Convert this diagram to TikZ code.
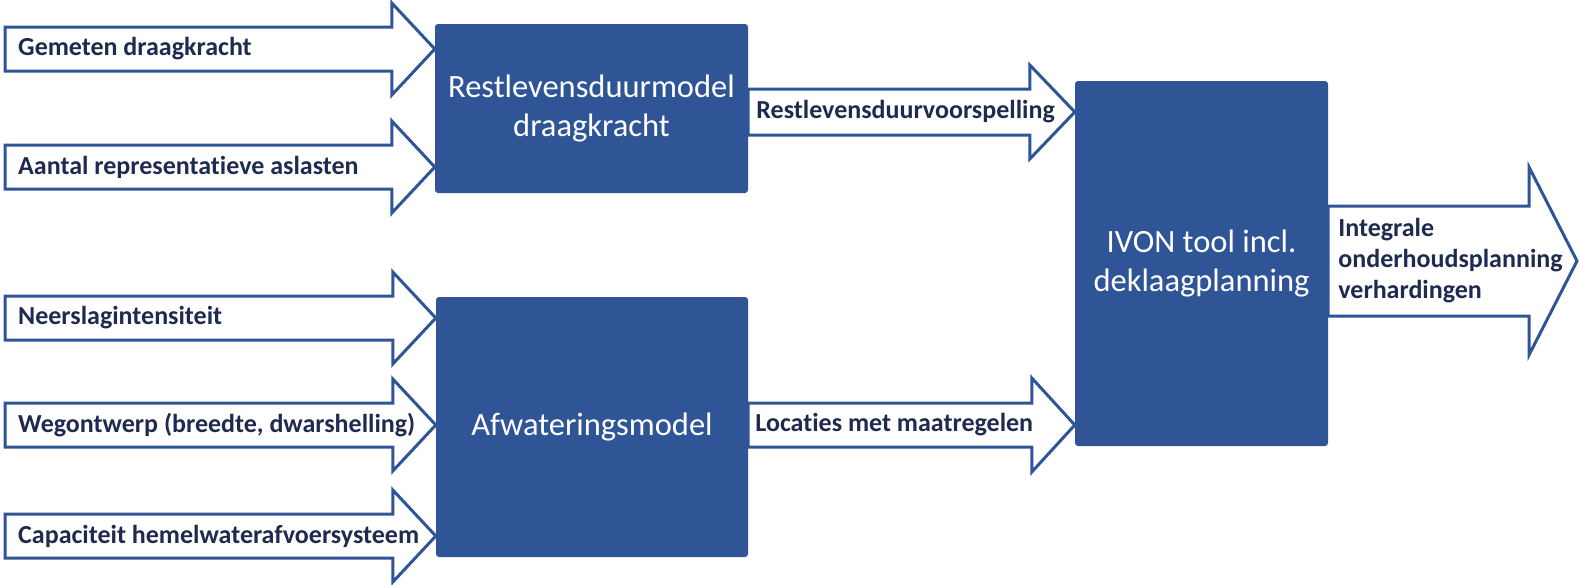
\documentclass[tikz,border=0pt]{standalone}
\usepackage{fontspec}
\setmainfont{Carlito}[Ligatures={NoCommon}]
\usepackage{xcolor}
\usetikzlibrary{arrows.meta,calc,positioning}
\definecolor{ModelBlue}{HTML}{2F5597}
\definecolor{LabelNavy}{HTML}{1E2B4F}
\tikzset{
  modelbox/.style={draw=none, fill=ModelBlue, rounded corners=3pt, align=center, text=white, font=\fontsize{32.5}{39}\selectfont},
  flowlabel/.style={anchor=west, inner sep=0pt, align=left, text=LabelNavy, font=\fontsize{26}{31}\selectfont\bfseries},
  blockarrow/.style={draw=ModelBlue, fill=white, line width=3pt, line join=miter}
}
% #1 tail, #2 tip, #3 half shaft, #4 half head, #5 head length
\newcommand{\blockarrow}[5]{%
  \draw[blockarrow] ($(#1)+(0,-#3)$) -- ($(#2)+(-#5,-#3)$) -- ($(#2)+(-#5,-#4)$) -- (#2)
    -- ($(#2)+(-#5,#4)$) -- ($(#2)+(-#5,#3)$) -- ($(#1)+(0,#3)$) -- cycle;}

\begin{document}
\begin{tikzpicture}[x=1pt, y=-1pt]
  \useasboundingbox (0,0) rectangle (1580,584);
  % models
  \node[modelbox, minimum width=313pt, minimum height=169pt] (restmodel) at (591.5,108.5) {Restlevensduurmodel\\draagkracht};
  \node[modelbox, minimum width=312pt, minimum height=260pt] (afwmodel) at (592,427) {Afwateringsmodel};
  \node[modelbox, minimum width=253pt, minimum height=365pt] (ivon) at (1201.5,263.5) {IVON tool incl.\\deklaagplanning};
  % tails of the input arrows
  \coordinate (in1) at (5,49);
  \coordinate (in2) at (5,167);
  \coordinate (in3) at (5,318);
  \coordinate (in4) at (5,425);
  \coordinate (in5) at (5,536);
  \coordinate (rest) at (restmodel.east |- 0,112);
  \coordinate (loc) at (afwmodel.east |- 0,425);
  \coordinate (out) at (ivon.east |- 0,261);
  \coordinate (outtip) at (1577,261);
  \blockarrow{in1}{restmodel.west |- in1}{22}{46}{43}
  \blockarrow{in2}{restmodel.west |- in2}{22}{46}{43}
  \blockarrow{in3}{afwmodel.west |- in3}{22}{46}{43}
  \blockarrow{in4}{afwmodel.west |- in4}{22}{46}{43}
  \blockarrow{in5}{afwmodel.west |- in5}{22}{46}{43}
  \blockarrow{rest}{ivon.west |- rest}{23}{47}{45}
  \blockarrow{loc}{ivon.west |- loc}{22}{47}{43}
  \blockarrow{out}{outtip}{55}{94}{48}
  % labels
  \node[flowlabel] (gemeten) at ($(in1)+(13,0)$) {Gemeten draagkracht};
  \node[flowlabel] (aslasten) at ($(in2)+(13,0)$) {Aantal representatieve aslasten};
  \node[flowlabel] (neerslag) at ($(in3)+(13,0)$) {Neerslagintensiteit};
  \node[flowlabel] (wegontwerp) at ($(in4)+(13,0)$) {Wegontwerp (breedte, dwarshelling)};
  \node[flowlabel] (capaciteit) at ($(in5)+(13,0)$) {Capaciteit hemelwaterafvoersysteem};
  \node[flowlabel] (voorspelling) at ($(rest)+(8,0)$) {Restlevensduurvoorspelling};
  \node[flowlabel] (locaties) at ($(loc)+(7,0)$) {Locaties met maatregelen};
  \node[flowlabel] (planning) at ($(out)+(10,0)$) {Integrale\\onderhoudsplanning\\verhardingen};
\end{tikzpicture}
\end{document}
